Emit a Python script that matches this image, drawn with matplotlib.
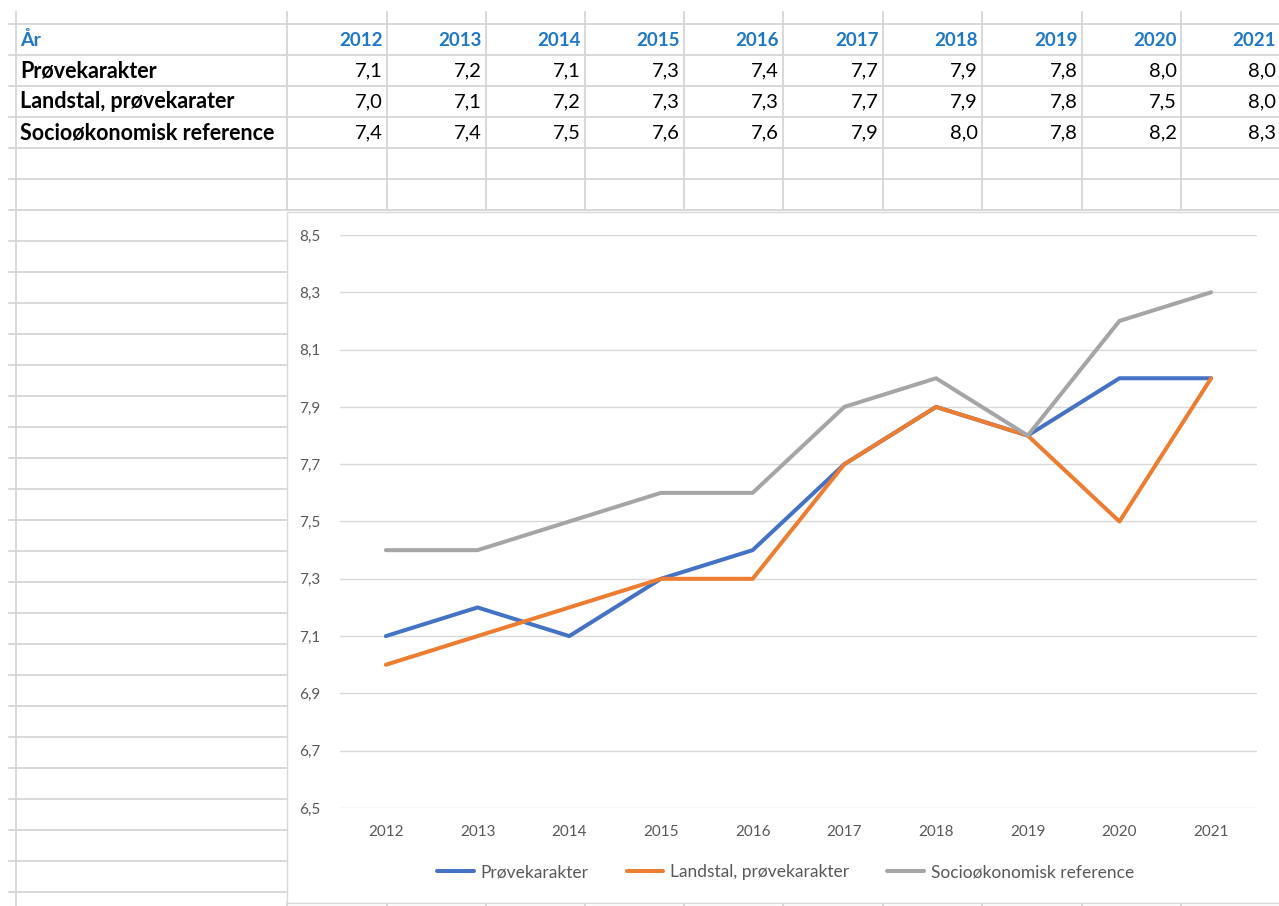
import numpy as np
import matplotlib.pyplot as plt
from matplotlib.patches import Rectangle
from matplotlib.ticker import FuncFormatter

plt.rcParams['font.family'] = ['Lato', 'DejaVu Sans']

# data
years = [2012, 2013, 2014, 2015, 2016, 2017, 2018, 2019, 2020, 2021]
proevekarakter = [7.1, 7.2, 7.1, 7.3, 7.4, 7.7, 7.9, 7.8, 8.0, 8.0]
landstal = [7.0, 7.1, 7.2, 7.3, 7.3, 7.7, 7.9, 7.8, 7.5, 8.0]
socio_ref = [7.4, 7.4, 7.5, 7.6, 7.6, 7.9, 8.0, 7.8, 8.2, 8.3]

table_header = 'År'
table_labels = ['Prøvekarakter', 'Landstal, prøvekarater', 'Socioøkonomisk reference']
legend_labels = ['Prøvekarakter', 'Landstal, prøvekarakter', 'Socioøkonomisk reference']
colors = ['#4472C4', '#ED7D31', '#A5A5A5']

W, H = 1279, 906
GRID = '#D6D6D6'
BLUE_TXT = '#1F78C8'


def fmt(v):
    return f'{v:.1f}'.replace('.', ',')


def main():
    fig = plt.figure(figsize=(W / 100, H / 100), dpi=100)

    # spreadsheet background in pixel coords
    bg = fig.add_axes([0, 0, 1, 1])
    bg.set_xlim(0, W)
    bg.set_ylim(H, 0)
    bg.axis('off')

    col_x = [16, 287, 387, 486, 585, 684, 783, 883, 982, 1082, 1181]
    right_edges = col_x[2:] + [W + 1]
    row_y = [24, 55, 86, 117, 148, 179, 210]

    for y in row_y:
        bg.plot([9, W], [y, y], color=GRID, lw=1.3)
    for y in np.arange(241, 900, 31):
        bg.plot([9, 287], [y, y], color=GRID, lw=1.3)
    bg.plot([16, 16], [12, H], color=GRID, lw=1.3)
    for x in col_x[1:]:
        bg.plot([x, x], [12, 210], color=GRID, lw=1.3)
        bg.plot([x, x], [903, H], color=GRID, lw=1.3)
    bg.plot([287, W], [903, 903], color=GRID, lw=1.3)

    # chart frame
    bg.add_patch(Rectangle((287, 212), W - 287 + 2, 691, facecolor='white',
                           edgecolor='#D9D9D9', lw=1.0, zorder=3))

    # table text
    rows = [proevekarakter, landstal, socio_ref]
    bg.text(20, 40, table_header, color=BLUE_TXT, fontsize=14, fontweight='bold',
            va='center', ha='left')
    for i, yr in enumerate(years):
        bg.text(right_edges[i] - 4, 40, str(yr), color=BLUE_TXT, fontsize=13.5,
                fontweight='bold', va='center', ha='right')
    for r, (lab, vals) in enumerate(zip(table_labels, rows)):
        yc = 71 + 31 * r
        bg.text(20, yc, lab, color='black', fontsize=15.5, fontweight='bold',
                va='center', ha='left')
        for i, v in enumerate(vals):
            bg.text(right_edges[i] - 4, yc, fmt(v), color='black', fontsize=14.5,
                    va='center', ha='right')

    # chart
    ax = fig.add_axes([340 / W, 1 - 808 / H, 917 / W, 573 / H], zorder=5)
    ax.set_facecolor('none')
    xs = np.arange(len(years))
    series = [proevekarakter, landstal, socio_ref]
    for vals, c, lab in zip(series, colors, legend_labels):
        ax.plot(xs, vals, color=c, lw=2.9, label=lab, solid_joinstyle='round',
                solid_capstyle='round')

    ax.set_xlim(-0.5, len(years) - 0.5)
    ax.set_ylim(6.5, 8.5)
    ax.set_yticks(np.arange(6.5, 8.51, 0.2))
    ax.yaxis.set_major_formatter(FuncFormatter(lambda v, p: fmt(v)))
    ax.set_xticks(xs)
    ax.set_xticklabels([str(y) for y in years])
    ax.grid(axis='y', color='#D9D9D9', lw=1.0)
    ax.set_axisbelow(True)
    for s in ax.spines.values():
        s.set_visible(False)
    ax.tick_params(axis='both', length=0, labelsize=11, labelcolor='#595959')
    ax.tick_params(axis='y', pad=14)
    ax.tick_params(axis='x', pad=12)

    leg = ax.legend(loc='center', bbox_to_anchor=(0.486, -0.112), ncol=3,
                    frameon=False, fontsize=12.5, handlelength=2.1,
                    handletextpad=0.4, columnspacing=2.2)
    for t in leg.get_texts():
        t.set_color('#595959')

    fig.savefig('out.png', dpi=100)


if __name__ == '__main__':
    main()
